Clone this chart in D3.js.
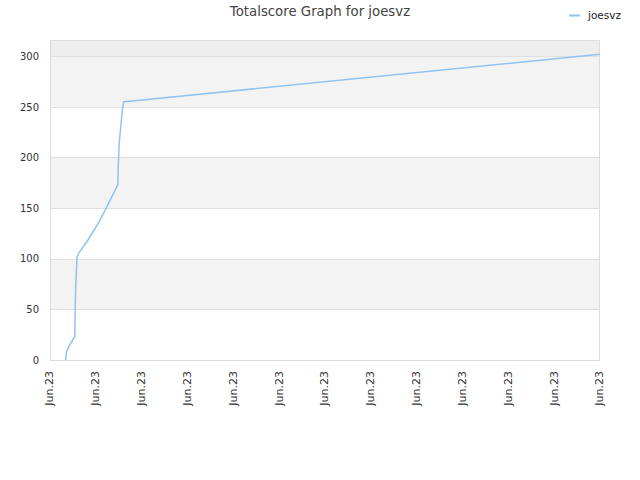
<!DOCTYPE html>
<html><head><meta charset="utf-8">
<script src="https://cdn.jsdelivr.net/npm/d3@7"></script>
<style>body{margin:0;background:#fff;} svg{display:block;font-family:"DejaVu Sans",sans-serif;}</style>
</head><body>
<script>
const title = "Totalscore Graph for joesvz";
const seriesName = "joesvz";
// x positions in tick units (0..12), y totalscore
const xVals = [0.34, 0.36, 0.43, 0.54, 0.55, 0.56, 0.59, 0.62, 0.82, 1.08, 1.48, 1.49, 1.51, 1.55, 1.58, 1.61, 1.85, 12];
const yVals = [0, 8, 15, 23, 49, 72, 102, 105, 118, 137, 173, 192, 214, 233, 247, 255, 256, 302];
const xTickLabels = ["Jun.23","Jun.23","Jun.23","Jun.23","Jun.23","Jun.23","Jun.23","Jun.23","Jun.23","Jun.23","Jun.23","Jun.23","Jun.23"];
const yTicks = [0, 50, 100, 150, 200, 250, 300];

const W = 640, H = 480;
const m = {left: 50, right: 40, top: 40, bottom: 120};
const svg = d3.select("body").append("svg").attr("width", W).attr("height", H);

const x = d3.scaleLinear().domain([0, xTickLabels.length - 1]).range([m.left, W - m.right]);
const y = d3.scaleLinear().domain([0, 316]).range([H - m.bottom, m.top]);

// bands
const bandEdges = yTicks.concat([316]);
for (let i = 0; i < bandEdges.length - 1; i++) {
  let fill = (i % 2 === 1) ? "#f3f3f3" : "#ffffff";
  if (i === bandEdges.length - 2) fill = "#eeeeee";
  svg.append("rect").attr("x", m.left).attr("width", W - m.right - m.left)
    .attr("y", y(bandEdges[i + 1])).attr("height", y(bandEdges[i]) - y(bandEdges[i + 1]))
    .attr("fill", fill);
}
// grid lines
svg.append("g").selectAll("line").data(yTicks.slice(1)).join("line")
  .attr("x1", m.left).attr("x2", W - m.right)
  .attr("y1", d => Math.round(y(d)) + 0.5).attr("y2", d => Math.round(y(d)) + 0.5)
  .attr("stroke", "#e0e0e0");
// border
svg.append("rect").attr("x", m.left + 0.5).attr("y", m.top + 0.5)
  .attr("width", W - m.right - m.left - 1).attr("height", H - m.bottom - m.top)
  .attr("fill", "none").attr("stroke", "#dddddd");

// y axis
const yAxis = svg.append("g").attr("transform", `translate(${m.left},0)`)
  .call(d3.axisLeft(y).tickValues(yTicks).tickSize(0).tickPadding(11));
yAxis.select(".domain").remove();
yAxis.selectAll("text").attr("font-size", 10).attr("fill", "#333").attr("font-family", "DejaVu Sans");

// x axis
const xAxis = svg.append("g").attr("transform", `translate(0,${H - m.bottom})`)
  .call(d3.axisBottom(x).tickValues(d3.range(xTickLabels.length)).tickFormat((d, i) => xTickLabels[i]).tickSize(0));
xAxis.select(".domain").remove();
xAxis.selectAll("text").attr("font-size", 11).attr("fill", "#333").attr("font-family", "DejaVu Sans")
  .attr("text-anchor", "end").attr("transform", "rotate(-90)")
  .attr("x", -11).attr("y", -1).attr("dy", "0.35em");

// line
const pts = xVals.map((v, i) => [v, yVals[i]]);
svg.append("path").datum(pts)
  .attr("d", d3.line().x(d => x(d[0])).y(d => y(d[1])))
  .attr("fill", "none").attr("stroke", "#90c3f2").attr("stroke-width", 1.5);

// title
svg.append("text").attr("x", W / 2).attr("y", 16).attr("text-anchor", "middle")
  .attr("font-size", 13.3).attr("fill", "#444").text(title);

// legend
svg.append("line").attr("x1", 569).attr("x2", 580).attr("y1", 15.5).attr("y2", 15.5)
  .attr("stroke", "#90c3f2").attr("stroke-width", 2);
svg.append("text").attr("x", 588).attr("y", 19).attr("font-size", 10.5).attr("fill", "#222").text(seriesName);
</script>
</body></html>
